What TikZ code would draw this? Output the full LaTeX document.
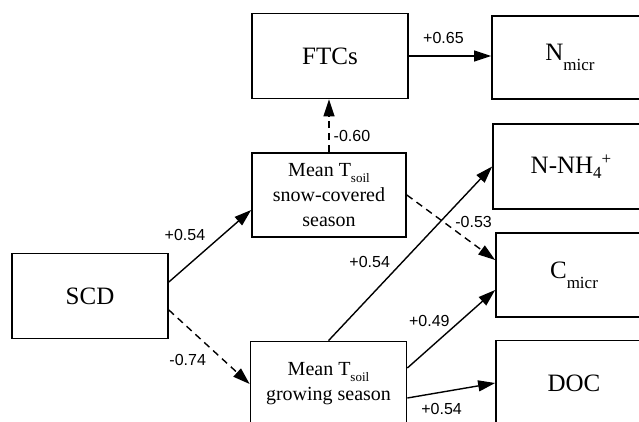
\documentclass[tikz,border=0pt]{standalone}
\usepackage{fontspec}
\setmainfont{Liberation Serif}
\newfontfamily\lblfont{Liberation Sans}
\usetikzlibrary{arrows.meta, positioning, calc}

% lowered or raised small text: #1 shift, #2 size, #3 text
\newcommand{\shifttxt}[3]{\raisebox{#1}{\fontsize{#2}{#2}\selectfont #3}}

\begin{document}
\begin{tikzpicture}[
    x=1pt, y=1pt,
    block/.style={rectangle, draw, line width=1.7pt, minimum width=156pt, minimum height=85pt, align=center, inner sep=2pt, font=\fontsize{25}{30}\selectfont},
    tblock/.style={block, font=\fontsize{20}{25}\selectfont},
    arrow/.style={-{Triangle[length=17pt, width=11pt]}, line width=1.4pt},
    dasharrow/.style={arrow, dash pattern=on 7pt off 5pt},
    lbl/.style={font=\lblfont\fontsize{16}{18}\selectfont, inner sep=1pt}
]
\clip (0,0) rectangle (639,421);

% Nodes
\node (scd) [block] at (90,125) {SCD};
\node (snow) [tblock, minimum width=154pt, minimum height=84pt] at (329,226) {Mean T\shifttxt{-6pt}{13}{soil}\\snow-covered\\season};
\node (grow) [tblock] at (328.5,37) {Mean T\shifttxt{-6pt}{13}{soil}\\growing season};
\node (ftcs) [block] at (330,365) {FTCs};
\node (nmicr) [block, minimum height=83pt] at (570,363.5) {N\shifttxt{-10pt}{17}{micr}};
\node (nnh4) [block] at (571,254.5) {N-NH\shifttxt{-5pt}{17}{4}\shifttxt{9pt}{17}{+}};
\node (cmicr) [block, minimum height=84pt] at (574,146) {C\shifttxt{-10pt}{17}{micr}};
\node (doc) [block] at (574,38) {DOC};

% Paths
\draw [arrow] (ftcs.east) -- (nmicr.west |- ftcs.east) node[lbl, pos=0.42, above=11pt] {+0.65};
\draw [dasharrow] (snow.north) -- (ftcs.south -| snow.north) node[lbl, pos=0.3, right=3pt] {-0.60};
\draw [arrow] ($(scd.east)+(0,14)$) -- ($(snow.west)+(0,-15)$) node[lbl, pos=0.45, anchor=south east, xshift=1pt, yshift=7pt] {+0.54};
\draw [dasharrow] ($(scd.east)+(0,-14)$) -- (grow.west) node[lbl, pos=0.48, anchor=north east, yshift=-7pt] {-0.74};
\draw [dasharrow] (snow.east) -- ($(cmicr.west)+(0,15)$) node[lbl, pos=0.53, anchor=south west] {-0.53};
\draw [arrow] (grow.north) -- (nnh4.west) node[lbl, pos=0.41, anchor=south east, xshift=-4pt] {+0.54};
\draw [arrow] ($(grow.east)+(0,16)$) -- ($(cmicr.west)+(0,-15)$) node[lbl, pos=0.5, anchor=south east, yshift=1pt] {+0.49};
\draw [arrow] ($(grow.east)+(0,-14)$) -- (doc.west) node[lbl, pos=0.39, below=9pt] {+0.54};

\end{tikzpicture}
\end{document}
